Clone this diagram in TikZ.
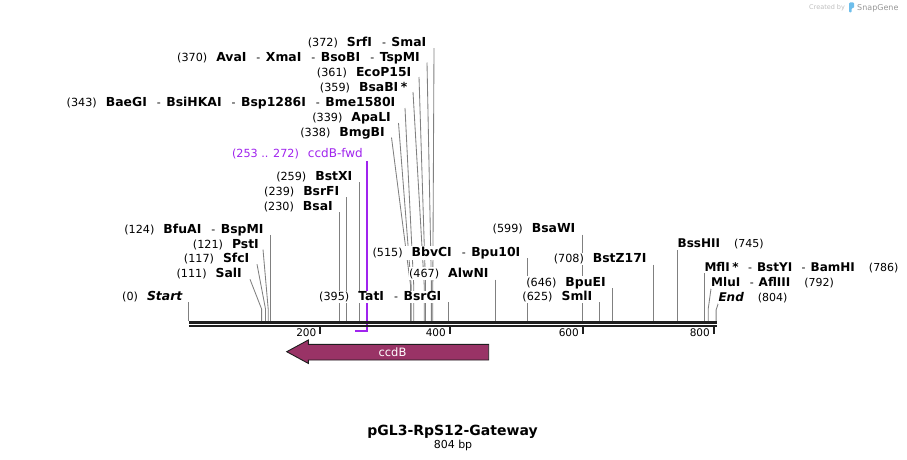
\documentclass[tikz,border=0pt]{standalone}
\usepackage{fontspec}
\setmainfont{DejaVu Sans}
\usetikzlibrary{calc}
\definecolor{leadgray}{RGB}{128,128,128}
\definecolor{primer}{RGB}{160,36,238}
\definecolor{ccdbfill}{RGB}{153,51,102}
\definecolor{axiscol}{RGB}{30,30,30}
\definecolor{wmlight}{RGB}{190,190,190}
\definecolor{wmtext}{RGB}{150,150,150}
\definecolor{wmblue}{RGB}{110,190,235}
\newcommand\nbr[1]{{\fontsize{11.2}{13}\selectfont #1}}
\newcommand\enz[1]{{\fontsize{12.4}{14}\selectfont\bfseries #1}}
\newcommand\nbrr[1]{{\fontsize{11}{13}\selectfont #1}}
\newcommand\enzr[1]{{\fontsize{12}{14}\selectfont\bfseries #1}}
\newcommand\gp{\hspace{9pt}}
\newcommand\gpr{\hspace{14pt}}
\newcommand\dsh{\hspace{10pt}{\fontsize{11}{13}\selectfont -}\hspace{5.5pt}}
\newcommand\dshr{\hspace{9.5pt}{\fontsize{11}{13}\selectfont -}\hspace{5pt}}
\pgfdeclarelayer{background}
\pgfsetlayers{background,main}
\begin{document}
\begin{tikzpicture}[x=1pt,y=-1pt,
  lbl/.style={fill=white, inner xsep=0.5pt, inner ysep=1pt},
  lab/.style={lbl, anchor=base east},
  rlab/.style={lbl, anchor=base west},
  lead/.style={draw=leadgray, line width=0.85pt},
  pline/.style={draw=primer, line width=1.6pt},
  tickmark/.style={draw=axiscol, line width=2pt},
  ticklbl/.style={anchor=base east, inner sep=0pt, font=\fontsize{10.5}{12}\selectfont},
  axisline/.style={draw=axiscol}]
\useasboundingbox (0,0) rectangle (907,460);

% site coordinates on the axis
\foreach \n/\x in {372/432.8, 370/431.4, 361/425.5, 359/424.2, 343/413.7, 339/411.1, 338/410.5,
  259/359, 239/346, 230/339.5, 124/270.2, 121/268.2, 117/265.5, 111/261.6, 0/188.8,
  395/448, 515/527, 467/495.2, 599/582, 708/653.2, 646/612.4, 625/599,
  745/677.4, 786/704.3, 792/708.2, 804/716.1}
  \coordinate (s\n) at (\x,321);

% ---- labels, left of their sites ----
\node[lab] (n372) at (427,46.7) {\nbr{(372)}\gp\enz{SrfI}\dsh\enz{SmaI}};
\node[lab] (n370) at (420.5,61.5) {\nbr{(370)}\gp\enz{AvaI}\dsh\enz{XmaI}\dsh\enz{BsoBI}\dsh\enz{TspMI}};
\node[lab] (n361) at (412,76.5) {\nbr{(361)}\gp\enz{EcoP15I}};
\node[lab] (n359) at (408,91.5) {\nbr{(359)}\gp\enz{BsaBI\hspace{2.5pt}*}};
\node[lab] (n343) at (396,106.5) {\nbr{(343)}\gp\enz{BaeGI}\dsh\enz{BsiHKAI}\dsh\enz{Bsp1286I}\dsh\enz{Bme1580I}};
\node[lab] (n339) at (391.5,121.5) {\nbr{(339)}\gp\enz{ApaLI}};
\node[lab] (n338) at (385.5,136.5) {\nbr{(338)}\gp\enz{BmgBI}};
\node[lab, text=primer] (nfwd) at (363.5,157.7) {\nbr{(253 .. 272)}\gp{\fontsize{12}{14}\selectfont ccdB-fwd}};

\node[lab] (n259) at (353,180.7) {\nbr{(259)}\gp\enz{BstXI}};
\node[lab] (n239) at (340,195.7) {\nbr{(239)}\gp\enz{BsrFI}};
\node[lab] (n230) at (333.5,210.7) {\nbr{(230)}\gp\enz{BsaI}};
\node[lab] (n124) at (264.2,233.3) {\nbr{(124)}\gp\enz{BfuAI}\dsh\enz{BspMI}};
\node[lab] (n121) at (259.5,248) {\nbr{(121)}\gp\enz{PstI}};
\node[lab] (n117) at (250,262.7) {\nbr{(117)}\gp\enz{SfcI}};
\node[lab] (n111) at (242.5,277.3) {\nbr{(111)}\gp\enz{SalI}};
\node[lab] (n0) at (183,300.5) {\nbr{(0)}\gp\enz{\itshape Start}};

\node[lab] (n395) at (442,300.7) {\nbr{(395)}\gp\enz{TatI}\dsh\enz{BsrGI}};
\node[lab] (n515) at (521,256) {\nbr{(515)}\gp\enz{BbvCI}\dsh\enz{Bpu10I}};
\node[lab] (n467) at (489.2,277.7) {\nbr{(467)}\gp\enz{AlwNI}};
\node[lab] (n599) at (576,232.7) {\nbr{(599)}\gp\enz{BsaWI}};
\node[lab] (n708) at (647.2,262.7) {\nbr{(708)}\gp\enz{BstZ17I}};
\node[lab] (n646) at (606.4,286) {\nbr{(646)}\gp\enz{BpuEI}};
\node[lab] (n625) at (593,300.7) {\nbr{(625)}\gp\enz{SmlI}};

% ---- labels, right of their sites ----
\node[rlab] (n745) at (676.9,247.3) {\enzr{BssHII}\gpr\nbrr{(745)}};
\node[rlab] (n786) at (703.8,271) {\enzr{MflI\hspace{2.5pt}*}\dshr\enzr{BstYI}\dshr\enzr{BamHI}\gpr\nbrr{(786)}};
\node[rlab] (n792) at (710.5,286.7) {\enzr{MluI}\dshr\enzr{AflIII}\gpr\nbrr{(792)}};
\node[rlab] (n804) at (717.8,301.7) {\enzr{\itshape End}\gpr\nbrr{(804)}};

% ---- connectors (behind the labels) ----
\begin{pgfonlayer}{background}
\draw[lead] ($(n372.base east)+(7,1.5)$) -- (432.8,285) -- (s372);
\draw[lead] ($(n370.base east)+(6.5,1)$) -- (431.4,285) -- (s370);
\draw[lead] ($(n361.base east)+(7,0.5)$) -- (425.5,285) -- (s361);
\draw[lead] ($(n359.base east)+(5,0.5)$) -- (424.2,285) -- (s359);
\draw[lead] ($(n343.base east)+(9,1.5)$) -- (413.7,285) -- (s343);
\draw[lead] ($(n339.base east)+(7,1.5)$) -- (411.1,285) -- (s339);
\draw[lead] ($(n338.base east)+(6,1)$) -- (410.5,285) -- (s338);

\draw[lead] ($(n259.base east)+(6,1.5)$) -- (s259);
\draw[lead] ($(n239.base east)+(6,1.5)$) -- (s239);
\draw[lead] ($(n230.base east)+(6,1.5)$) -- (s230);
\draw[lead] ($(n124.base east)+(6,1.5)$) -- (s124);
\draw[lead] ($(n121.base east)+(3.5,1.5)$) -- (268.2,309) -- (s121);
\draw[lead] ($(n117.base east)+(7,1.5)$) -- (265.5,309) -- (s117);
\draw[lead] ($(n111.base east)+(7.5,2)$) -- (261.6,309) -- (s111);
\draw[lead] ($(n0.base east)+(5.8,1.5)$) -- (s0);

\draw[lead] ($(n395.base east)+(6,1.5)$) -- (s395);
\draw[lead] ($(n515.base east)+(6,2)$) -- (s515);
\draw[lead] ($(n467.base east)+(6,2)$) -- (s467);
\draw[lead] ($(n599.base east)+(6,2)$) -- (s599);
\draw[lead] ($(n708.base east)+(6,2)$) -- (s708);
\draw[lead] ($(n646.base east)+(6,2)$) -- (s646);
\draw[lead] ($(n625.base east)+(6,1.5)$) -- (s625);

\draw[lead] ($(n745.base west)+(0.5,2.5)$) -- (s745);
\draw[lead] ($(n786.base west)+(0.5,2)$) -- (s786);
\draw[lead] ($(n792.base west)+(0.5,2)$) -- (708.2,309) -- (s792);
\draw[lead] ($(n804.base west)+(0.5,1.5)$) -- (716.1,310) -- (s804);

% primer ccdB-fwd
\draw[pline] ($(nfwd.base east)+(3.7,3.3)$) -- (367.2,330.8) -- (354.7,330.8);
\end{pgfonlayer}

% ---- sequence axis ----
\draw[axisline, line width=3pt] (188.8,322.5) -- (717,322.5);
\draw[axisline, line width=1.8pt] (188.8,326.2) -- (717,326.2);
\foreach \x/\t in {320/200, 449.5/400, 582.5/600, 713.5/800} {
  \draw[tickmark] (\x,327) -- (\x,334.3);
  \node[ticklbl] (t\t) at (\x-3.5,336.7) {\t};
}

% ---- ccdB feature ----
\draw[fill=ccdbfill, draw=axiscol, line width=0.9pt]
  (488.7,344.3) -- (308.3,344.3) -- (308.3,340) -- (286.7,351.7)
  -- (308.3,363.4) -- (308.3,360) -- (488.7,360) -- cycle;
\node[anchor=base, inner sep=0pt, text=white, font=\fontsize{11.5}{13}\selectfont] (ccdb) at (392.5,356) {ccdB};

% ---- title ----
\node[anchor=base, inner sep=0pt, font=\fontsize{14}{16}\selectfont\bfseries] (title) at (452.5,435) {pGL3-RpS12-Gateway};
\node[anchor=base, inner sep=0pt, font=\fontsize{11}{13}\selectfont] (len) at (453,448) {804 bp};

% ---- watermark ----
\node[anchor=base west, inner sep=0pt, text=wmlight, font=\fontsize{6.5}{8}\selectfont] (cb) at (809,10) {Created by};
\fill[wmblue, rounded corners=1pt] (849,2.5) -- (854,2.5) -- (854,8) -- (851.5,8) -- (851.5,12.5) -- (849,12.5) -- cycle;
\node[anchor=base west, inner sep=0pt, text=wmtext, font=\fontsize{8}{9}\selectfont] (sg) at (857,10.5) {SnapGene};
\end{tikzpicture}
\end{document}
